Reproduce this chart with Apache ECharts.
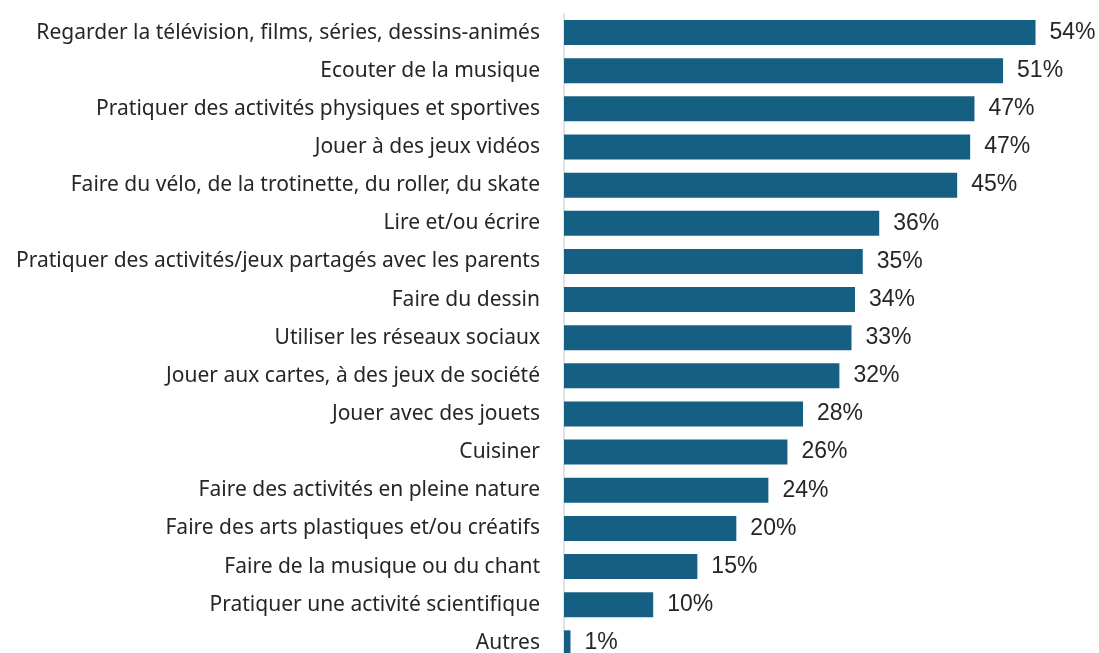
<!DOCTYPE html>
<html>
<head>
<meta charset="utf-8">
<script src="https://cdn.jsdelivr.net/npm/echarts@6/dist/echarts.min.js"></script>
<style>
  html, body { margin: 0; padding: 0; background: #ffffff; }
  #chart { width: 1099px; height: 653px; }
</style>
</head>
<body>
<div id="chart"></div>
<script>
// categories, top to bottom
const categories = [
  "Regarder la télévision, films, séries, dessins-animés",
  "Ecouter de la musique",
  "Pratiquer des activités physiques et sportives",
  "Jouer à des jeux vidéos",
  "Faire du vélo, de la trotinette, du roller, du skate",
  "Lire et/ou écrire",
  "Pratiquer des activités/jeux partagés avec les parents",
  "Faire du dessin",
  "Utiliser les réseaux sociaux",
  "Jouer aux cartes, à des jeux de société",
  "Jouer avec des jouets",
  "Cuisiner",
  "Faire des activités en pleine nature",
  "Faire des arts plastiques et/ou créatifs",
  "Faire de la musique ou du chant",
  "Pratiquer une activité scientifique",
  "Autres"
];
// share in % (labels are rounded)
const values = [54.45, 50.7, 47.4, 46.9, 45.4, 36.4, 34.5, 33.6, 33.2, 31.8,
                27.6, 25.8, 23.6, 19.9, 15.4, 10.3, 0.75];

const chart = echarts.init(document.getElementById("chart"));
const option = {
  backgroundColor: "#ffffff",
  animation: false,
  grid: {
    left: 564,
    top: 13.5,
    width: 519.6,
    height: 648.4,
    outerBoundsMode: "none"
  },
  xAxis: {
    type: "value",
    min: 0,
    max: 60,
    show: false
  },
  yAxis: {
    type: "category",
    inverse: true,
    data: categories,
    axisLine: {
      show: true,
      lineStyle: { color: "#d9d9d9", width: 1.5 }
    },
    axisTick: { show: false },
    axisLabel: {
      margin: 24,
      color: "#262626",
      fontFamily: "Noto Sans",
      fontSize: 21
    },
    splitLine: { show: false }
  },
  series: [
    {
      type: "bar",
      data: values,
      barWidth: 25,
      itemStyle: { color: "#156082" },
      label: {
        show: true,
        position: "right",
        distance: 14,
        color: "#262626",
        fontFamily: "Liberation Sans",
        fontSize: 23,
        formatter: (p) => Math.round(p.value) + "%"
      }
    }
  ]
};
chart.setOption(option);
</script>
</body>
</html>
